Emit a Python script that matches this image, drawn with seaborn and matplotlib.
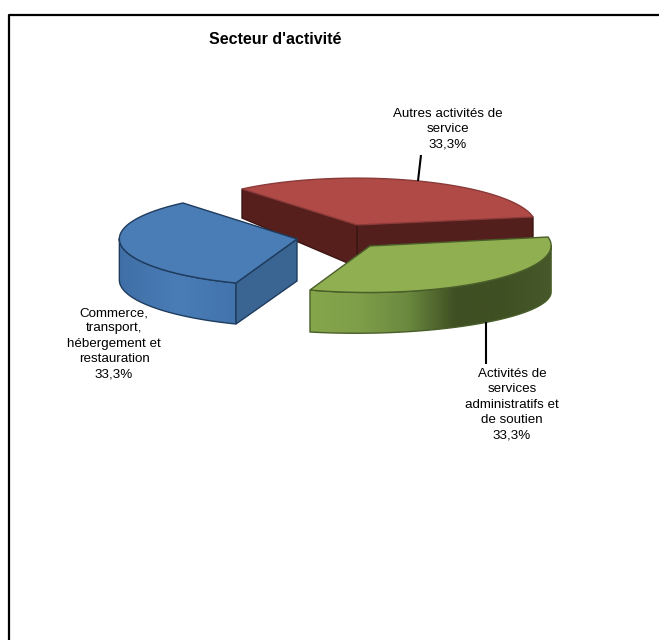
import numpy as np
import matplotlib.pyplot as plt
from matplotlib.patches import Polygon
from matplotlib.colors import LinearSegmentedColormap
import seaborn as sns

## Data
titre = "Secteur d'activité"
secteurs = ["Autres activités de\nservice",
            "Commerce,\ntransport,\nhébergement et\nrestauration",
            "Activités de\nservices\nadministratifs et\nde soutien"]
parts = [33.3, 33.3, 33.3]
etiquettes = ["33,3%", "33,3%", "33,3%"]

## Layout (pixels of the picture) : corners of each exploded slice, top and bottom face
# order = apex, start of the arc, end of the arc
red_top = [(357, 225), (533, 217), (242, 189)]
red_bot = [(357, 267), (533, 241), (242, 218)]
blue_top = [(297, 239), (183, 203), (236, 283)]
blue_bot = [(297, 281), (183, 245), (236, 324)]
green_top = [(370, 246), (548, 237), (310, 290)]
green_bot = [(370, 295), (548, 285), (310, 332)]

sns.set_theme(style="white")
plt.rcParams['font.family'] = ['Liberation Sans', 'DejaVu Sans']
pal = sns.color_palette(["#B04A47", "#4A7CB6", "#8FAF50"])


def arc(corners, share, n=81):
    # slice outline on a tilted disc, sweep comes from the share of the value
    a, p, q = [np.array(c, dtype=float) for c in corners]
    sweep = np.radians(360 * share / sum(parts))
    t = np.linspace(0, sweep, n)
    u = np.sin(sweep - t) / np.sin(sweep)
    v = np.sin(t) / np.sin(sweep)
    return a + u[:, None] * (p - a) + v[:, None] * (q - a)


def side_wall(ax, top, bot, i, colors, edge, z):
    # outer wall from arc index i to the end of the arc, horizontal gradient
    verts = np.vstack([top[i:], bot[i:][::-1]])
    poly = Polygon(verts, closed=True, fc="none", ec=edge, lw=1, zorder=z + 0.1)
    ax.add_patch(poly)
    x0, x1 = verts[:, 0].min(), verts[:, 0].max()
    y0, y1 = verts[:, 1].min(), verts[:, 1].max()
    cmap = LinearSegmentedColormap.from_list("side", colors)
    im = ax.imshow(np.linspace(0, 1, 256)[None, :], cmap=cmap, extent=(x0, x1, y1, y0),
                   aspect="auto", zorder=z)
    im.set_clip_path(poly)


def cut_wall(ax, top, bot, i, j, color, edge, z):
    ax.add_patch(Polygon([top[i], top[j], bot[j], bot[i]], closed=True, fc=color, ec=edge, lw=1, zorder=z))


def top_face(ax, corners, arc_pts, color, edge, z):
    verts = np.vstack([corners[0], arc_pts])
    ax.add_patch(Polygon(verts, closed=True, fc=color, ec=edge, lw=1, zorder=z))


fig = plt.figure(figsize=(6.59, 6.40), dpi=100)
ax = fig.add_axes([0, 0, 1, 1])

## Red slice (back)
cut_wall(ax, red_top, red_bot, 0, 1, "#531F1C", "#3c1513", 2)
cut_wall(ax, red_top, red_bot, 0, 2, "#561F1C", "#3c1513", 2)
top_face(ax, red_top, arc(red_top, parts[0]), pal[0], "#8a3a38", 3)

## Blue slice
a_top, a_bot = arc(blue_top, parts[1]), arc(blue_bot, parts[1])
side_wall(ax, a_top, a_bot, a_top[:, 0].argmin(), ["#3F6FA6", "#4A7CB6", "#4273AC"], "#1F3C5E", 4)
cut_wall(ax, blue_top, blue_bot, 0, 2, "#3A6491", "#1F3C5E", 4.5)
top_face(ax, blue_top, a_top, pal[1], "#1F3C5E", 5)

## Green slice, drawn over the other two
a_top, a_bot = arc(green_top, parts[2]), arc(green_bot, parts[2])
side_wall(ax, a_top, a_bot, a_top[:, 0].argmax(),
          ["#86A64B", "#7F9E49", "#6C8A3F", "#3F5023", "#3F5023", "#47592A"], "#4A5E2A", 6)
top_face(ax, green_top, a_top, pal[2], "#4A5E2A", 7)

## Leader lines start on the middle of the arcs
m_red = arc(red_top, parts[0])[40]
m_green = arc(green_bot, parts[2])[40]
ax.plot([m_red[0], 421], [m_red[1], 155], color="black", lw=1.5, zorder=8, solid_capstyle="butt")
ax.plot([486, 486], [m_green[1], 364], color="black", lw=1.5, zorder=8, solid_capstyle="butt")

## Labels
fs = 9.6
ax.text(447.5, 108, secteurs[0] + "\n" + etiquettes[0], ha="center", va="top", fontsize=fs, color="black", linespacing=1.38)
ax.text(114, 307, secteurs[1] + "\n" + etiquettes[1], ha="center", va="top", fontsize=fs, color="black", linespacing=1.38)
ax.text(512, 368, secteurs[2] + "\n" + etiquettes[2], ha="center", va="top", fontsize=fs, color="black", linespacing=1.38)
ax.text(275, 40, titre, ha="center", va="center", fontsize=11.5, fontweight="bold", color="black")

## Frame of the chart area, only left and top are in the picture
ax.plot([9, 9, 659], [640, 14.5, 14.5], color="black", lw=1.6, zorder=1)

ax.set_xlim(0, 659)
ax.set_ylim(640, 0)
ax.axis("off")
plt.savefig("out.png", dpi=100)
